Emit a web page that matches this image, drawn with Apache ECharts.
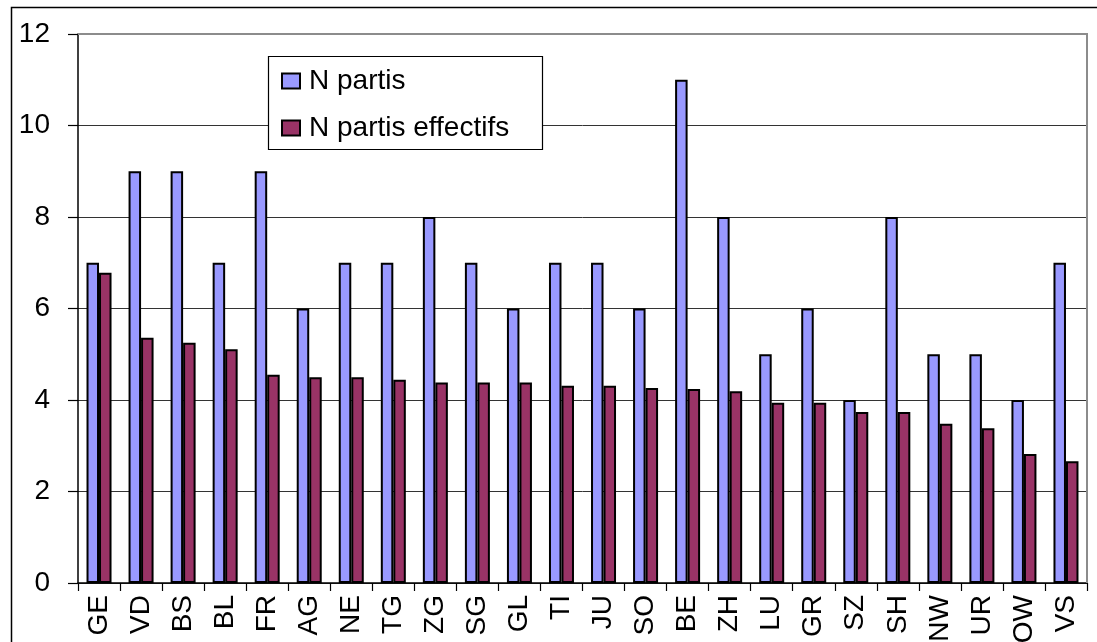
<!DOCTYPE html>
<html>
<head>
<meta charset="utf-8">
<script src="https://cdn.jsdelivr.net/npm/echarts@6/dist/echarts.min.js"></script>
<style>
html,body{margin:0;padding:0;background:#fff;}
#chart{width:1097px;height:642px;}
</style>
</head>
<body>
<div id="chart"></div>
<script>
var categories = ['GE','VD','BS','BL','FR','AG','NE','TG','ZG','SG','GL','TI','JU','SO','BE','ZH','LU','GR','SZ','SH','NW','UR','OW','VS'];
var nPartis = [7,9,9,7,9,6,7,7,8,7,6,7,7,6,11,8,5,6,4,8,5,5,4,7];
var nPartisEffectifs = [6.78,5.36,5.25,5.11,4.55,4.50,4.50,4.44,4.38,4.38,4.38,4.31,4.31,4.26,4.24,4.19,3.94,3.94,3.74,3.74,3.48,3.38,2.82,2.66];
var seriesNames = ['N partis','N partis effectifs'];
var yTicks = [0,2,4,6,8,10,12];

var FONT = "'Liberation Sans', Arial, sans-serif";
var chart = echarts.init(document.getElementById('chart'));
chart.setOption({
  animation: false,
  backgroundColor: '#fff',
  graphic: [
    {type:'rect', shape:{x:11.5,y:7.5,width:1200,height:700}, style:{fill:'none',stroke:'#000',lineWidth:1.5}, z:-1},
    {type:'rect', shape:{x:268.5,y:56.5,width:274,height:93}, style:{fill:'#fff',stroke:'#000',lineWidth:1.2}, z:5},
    {type:'polyline', shape:{points:[[78,34],[1087,34],[1087,583]]}, style:{fill:'none',stroke:'#8c8c8c',lineWidth:2}, z:3}
  ],
  legend: {
    data: seriesNames,
    orient: 'vertical',
    left: 281,
    top: 66,
    padding: 0,
    itemGap: 17,
    itemWidth: 18,
    itemHeight: 15,
    icon: 'rect',
    z: 10,
    itemStyle: {borderColor:'#000', borderWidth:2},
    textStyle: {fontFamily: FONT, fontSize: 28, color:'#000', lineHeight: 30, padding:[0,0,0,4]}
  },
  grid: {left:78, right:10, top:34, bottom:59, containLabel:false, outerBoundsMode:'none'},
  xAxis: {
    type: 'category',
    data: categories,
    axisLine: {show:true, lineStyle:{color:'#000', width:1.5}},
    axisTick: {show:true, length:8, lineStyle:{color:'#000', width:1.2}},
    axisLabel: {rotate:90, margin:12, fontFamily:FONT, fontSize:28, color:'#000', interval:0}
  },
  yAxis: {
    type: 'value',
    min: 0, max: 12, interval: 2,
    axisLine: {show:true, lineStyle:{color:'#000', width:1.5}},
    axisTick: {show:true, length:10, lineStyle:{color:'#000', width:1.2}},
    axisLabel: {margin:28, fontFamily:FONT, fontSize:28, color:'#000',
      formatter: function(v){ return yTicks.indexOf(v) >= 0 ? String(v) : ''; }},
    splitLine: {show:true, lineStyle:{color:'#333', width:1}}
  },
  series: [
    {name: seriesNames[0], type:'bar', data:nPartis, barWidth:12.5, barGap:'0%',
     itemStyle:{color:'#9999FF', borderColor:'#000', borderWidth:2}},
    {name: seriesNames[1], type:'bar', data:nPartisEffectifs, barWidth:12.5, barGap:'0%',
     itemStyle:{color:'#993366', borderColor:'#000', borderWidth:2}}
  ]
});
</script>
</body>
</html>
